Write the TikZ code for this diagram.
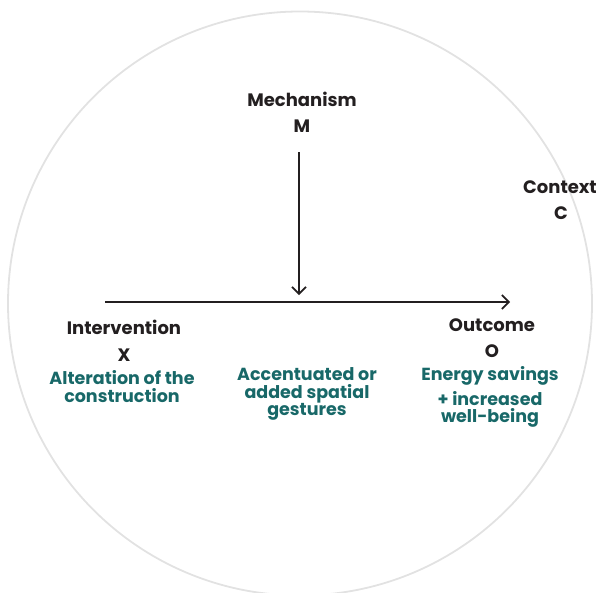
\documentclass[tikz,border=0pt]{standalone}
\usepackage{fontspec}
\setmainfont{Poppins}
\usetikzlibrary{arrows.meta,positioning}
\definecolor{tealtext}{RGB}{24,104,104}
\definecolor{ringgray}{RGB}{226,226,226}
\definecolor{inkblack}{RGB}{35,31,32}

\begin{document}
\begin{tikzpicture}[x=1pt, y=-1pt,
    label/.style={font=\bfseries\fontsize{18}{20}\selectfont, text=inkblack, inner sep=0pt},
    detail/.style={font=\bfseries\fontsize{17.5}{17.5}\selectfont, text=tealtext, align=center, inner sep=0pt},
    link/.style={inkblack, line width=1.6pt, -{Straight Barb[length=7pt,width=14pt]}}]
    \useasboundingbox (0,0) rectangle (600,592);

    % CERCLE DEL CONTEXT
    \draw[ringgray, line width=1.8pt] (300,303.5) circle (292pt);

    % ETIQUETES
    \node[label] (mech) at (302,99) {Mechanism};
    \node[label] (msym) at (302,126) {M};
    \node[label] (ctx) at (560,187) {Context};
    \node[label] (csym) at (561,213) {C};
    \node[label] (inter) at (124,327) {Intervention};
    \node[label] (xsym) at (124,355) {X};
    \node[label] (outc) at (492,325) {Outcome};
    \node[label] (osym) at (492,351) {O};

    % DESCRIPCIONS
    \node[detail] (xdesc) at (122,386.5) {Alteration of the\\construction};
    \node[detail] (mdesc) at (307,394) {Accentuated or\\added spatial\\gestures};
    \node[detail] (odesc) at (490,397) {Energy savings\\[5pt]+ increased\\well-being};

    % FLETXES
    \coordinate (start) at (105,302);
    \coordinate (finish) at (510,302);
    \coordinate (top) at (299,152);
    \coordinate (meet) at (299,295);
    \draw[link] (start) -- (finish);
    \draw[link] (top) -- (meet);
\end{tikzpicture}
\end{document}
